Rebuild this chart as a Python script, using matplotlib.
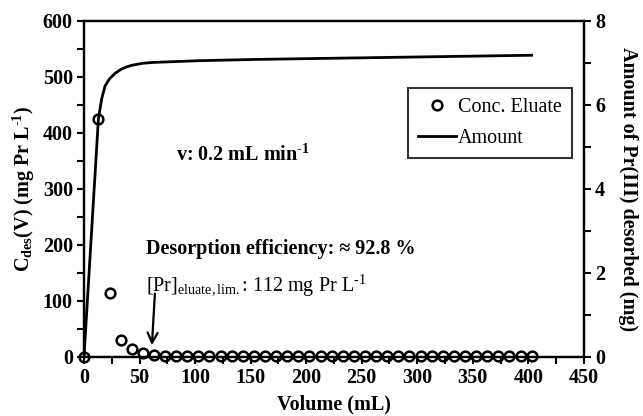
"""
Elution curve for Pr(III): eluate concentration and desorbed amount vs volume.
"""
import matplotlib
matplotlib.use("Agg")
import matplotlib.pyplot as plt
from matplotlib.ticker import MultipleLocator

plt.rcParams['font.family'] = ['Liberation Serif', 'DejaVu Serif']
plt.rcParams['mathtext.fontset'] = 'custom'
plt.rcParams['mathtext.rm'] = 'Liberation Serif'
plt.rcParams['mathtext.bf'] = 'Liberation Serif:bold'
plt.rcParams['mathtext.it'] = 'Liberation Serif:italic'

FS = 14.5

# Concentracion del eluato (mg Pr/L)
vol_conc = [0, 13, 23, 33, 43, 53, 63, 73, 83, 93, 103, 113, 123, 133, 143,
            153, 163, 173, 183, 193, 203, 213, 223, 233, 243, 253, 263, 273,
            283, 293, 303, 313, 323, 333, 343, 353, 363, 373, 383, 393, 403]
conc = [0, 425, 115, 30, 15, 7, 4, 2, 1.5, 1, 1, 1, 1, 1, 1,
        1, 1, 1, 1, 1, 1, 1, 1, 1, 1, 1, 1, 1,
        1, 1, 1, 1, 1, 1, 1, 1, 1, 1, 1, 1, 1]

# Cantidad desorbida acumulada (mg)
vol_amount = [0, 13, 16, 19, 23, 28, 33, 38, 43, 53, 63, 83, 103, 153,
              203, 253, 303, 353, 403]
amount = [0, 5.67, 6.15, 6.45, 6.62, 6.75, 6.84, 6.9, 6.94, 6.99, 7.01,
          7.03, 7.05, 7.08, 7.1, 7.12, 7.14, 7.16, 7.18]

fig = plt.figure(figsize=(6.43, 4.16), dpi=100)
ax = fig.add_axes([0.1306, 0.142, 0.7774, 0.808])
ax2 = ax.twinx()

ax.plot(vol_conc, conc, 'o', mfc='none', mec='black', ms=7, mew=1.8,
        label='Conc. Eluate', zorder=3, clip_on=False)
ax2.plot(vol_amount, amount, '-', color='black', lw=2, label='Amount')

ax.set_xlim(0, 450)
ax.set_ylim(0, 600)
ax2.set_ylim(0, 8)

ax.xaxis.set_major_locator(MultipleLocator(50))
ax.xaxis.set_minor_locator(MultipleLocator(25))
ax.yaxis.set_major_locator(MultipleLocator(100))
ax.yaxis.set_minor_locator(MultipleLocator(50))
ax2.yaxis.set_major_locator(MultipleLocator(2))
ax2.yaxis.set_minor_locator(MultipleLocator(1))

for a in (ax, ax2):
    for s in a.spines.values():
        s.set_linewidth(1.6)
    a.tick_params(which='both', direction='out', width=1.5, length=5,
                  labelsize=FS, pad=3)
    for lab in a.get_xticklabels() + a.get_yticklabels():
        lab.set_fontweight('bold')

# guion corto en los superindices, como en el original
HY = '\u2010'

ax.set_xlabel('Volume (mL)', fontsize=FS, fontweight='bold', labelpad=5)
ax.set_ylabel(r'C$_{\mathbf{des}}$(V) (mg Pr L$^{\mathbf{' + HY + '1}}$)',
              fontsize=FS, fontweight='bold', labelpad=4)
ax2.set_ylabel('Amount of Pr(III) desorbed (mg)', fontsize=FS,
               fontweight='bold', rotation=270, labelpad=24)

ax.text(83, 360, r'v: 0.2 mL min$^{\mathbf{' + HY + '1}}$', fontsize=FS,
        fontweight='bold', va='center')
ax.text(56, 193, 'Desorption efficiency: \u2248 92.8 %', fontsize=FS,
        fontweight='bold', va='center')
ax.text(56, 128, r'[Pr]$_{\mathrm{eluate,lim.}}$: 112 mg Pr L$^{' + HY + '1}$',
        fontsize=FS, va='center')
ax.annotate('', xy=(61, 16), xytext=(64, 118),
            arrowprops=dict(arrowstyle='->', lw=1.6, color='black',
                            mutation_scale=18))

h1, l1 = ax.get_legend_handles_labels()
h2, l2 = ax2.get_legend_handles_labels()
leg = ax2.legend(h1 + h2, l1 + l2, loc='upper right',
                 bbox_to_anchor=(0.976, 0.80), borderaxespad=0,
                 fontsize=FS, frameon=True, fancybox=False,
                 edgecolor='black', handlelength=1.9, handletextpad=0.1,
                 borderpad=0.5, labelspacing=0.6)
leg.get_frame().set_linewidth(1.5)

fig.savefig('out.png', dpi=100)
